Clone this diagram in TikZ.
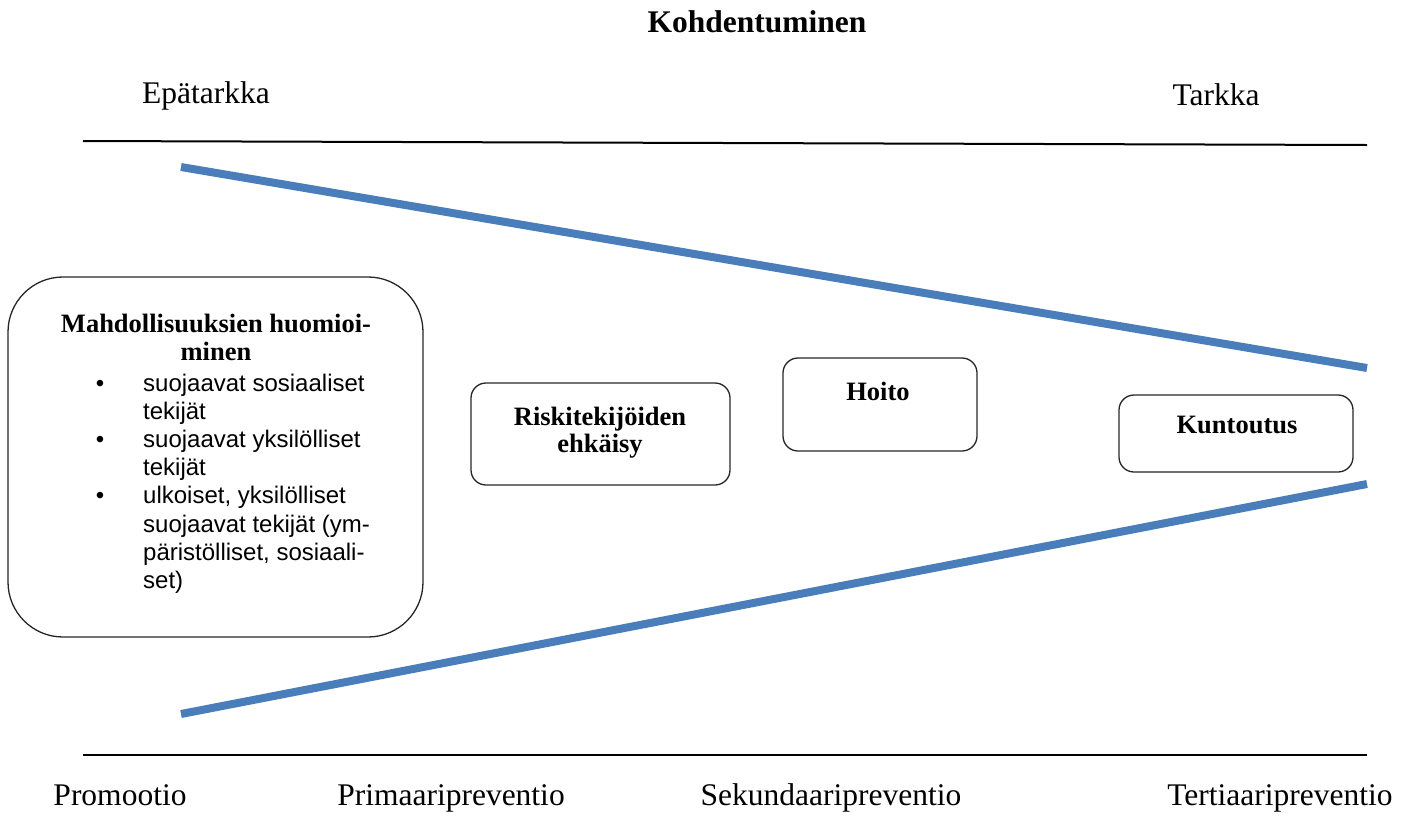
\documentclass[tikz,border=0pt]{standalone}
\usepackage{fontspec}
\setmainfont{Liberation Serif}
\setsansfont{Liberation Sans}
\definecolor{lineblue}{HTML}{4A7EBB}
\begin{document}
\begin{tikzpicture}[x=1pt,y=-1pt,
  lbl/.style={font=\fontsize{31.5}{36}\selectfont, inner sep=0pt, anchor=base},
  boxtitle/.style={font=\fontsize{26.5}{28}\selectfont\bfseries, inner sep=0pt, align=center},
  rbox/.style={draw=black!85, line width=1.3pt, rounded corners=15pt, inner sep=0pt},
  bigbox/.style={draw=black!85, line width=1.3pt, rounded corners=55pt, inner sep=0pt},
  blackline/.style={line width=2pt, black},
  blueline/.style={line width=8pt, lineblue},
  item/.style={font=\sffamily\fontsize{24}{28}\selectfont, inner sep=0pt, anchor=base west},
  bul/.style={font=\sffamily\fontsize{24}{28}\selectfont, inner sep=0pt, anchor=base}
]
\useasboundingbox (0,0) rectangle (1411,839);

% titles
\node[lbl, font=\fontsize{31.5}{36}\selectfont\bfseries] (kohd) at (757,32) {Kohdentuminen};
\node[lbl] (epa) at (206,103) {Epätarkka};
\node[lbl] (tark) at (1216,105) {Tarkka};

% horizontal black lines
\coordinate (tl) at (83,141);
\coordinate (tr) at (1367,145);
\coordinate (bl) at (83,755);
\coordinate (br) at (1367,755);
\draw[blackline] (tl) -- (tr);
\draw[blackline] (bl) -- (br);

% blue funnel lines
\coordinate (ul) at (181,167);
\coordinate (ur) at (1367,368);
\coordinate (ll) at (181,714);
\coordinate (lr) at (1367,484);
\draw[blueline] (ul) -- (ur);
\draw[blueline] (ll) -- (lr);

% big box
\node[bigbox, minimum width=415pt, minimum height=360pt] (mahd) at (215.5,457) {};
\node[boxtitle, anchor=base] (mtitle1) at (216,332) {Mahdollisuuksien huomioi-};
\node[boxtitle, anchor=base] (mtitle2) at (216,360) {minen};
\node[bul] (b1) at (100,391) {\textbullet};
\node[bul] (b2) at (100,447) {\textbullet};
\node[bul] (b3) at (100,503) {\textbullet};
\node[item] (i1a) at (143,391) {suojaavat sosiaaliset};
\node[item] (i1b) at (143,419) {tekijät};
\node[item] (i2a) at (143,447) {suojaavat yksilölliset};
\node[item] (i2b) at (143,475) {tekijät};
\node[item] (i3a) at (143,503) {ulkoiset, yksilölliset};
\node[item] (i3b) at (143,532) {suojaavat tekijät (ym-};
\node[item] (i3c) at (143,560) {päristölliset, sosiaali-};
\node[item] (i3d) at (143,588) {set)};

% small boxes
\node[rbox, minimum width=259pt, minimum height=102pt] (riski) at (600.5,434) {};
\node[boxtitle, anchor=base] (riskit1) at (600,425) {Riskitekijöiden};
\node[boxtitle, anchor=base] (riskit2) at (600,452) {ehkäisy};
\node[rbox, minimum width=194pt, minimum height=93pt] (hoito) at (880,404.5) {};
\node[boxtitle, anchor=base] (hoitot) at (878,400) {Hoito};
\node[rbox, minimum width=234pt, minimum height=77pt] (kunt) at (1236,433.5) {};
\node[boxtitle, anchor=base] (kuntt) at (1237,433) {Kuntoutus};

% bottom labels
\node[lbl] (promo) at (120,805) {Promootio};
\node[lbl] (prim) at (451,805) {Primaaripreventio};
\node[lbl] (sek) at (831,805) {Sekundaaripreventio};
\node[lbl] (ter) at (1280,805) {Tertiaaripreventio};
\end{tikzpicture}
\end{document}
